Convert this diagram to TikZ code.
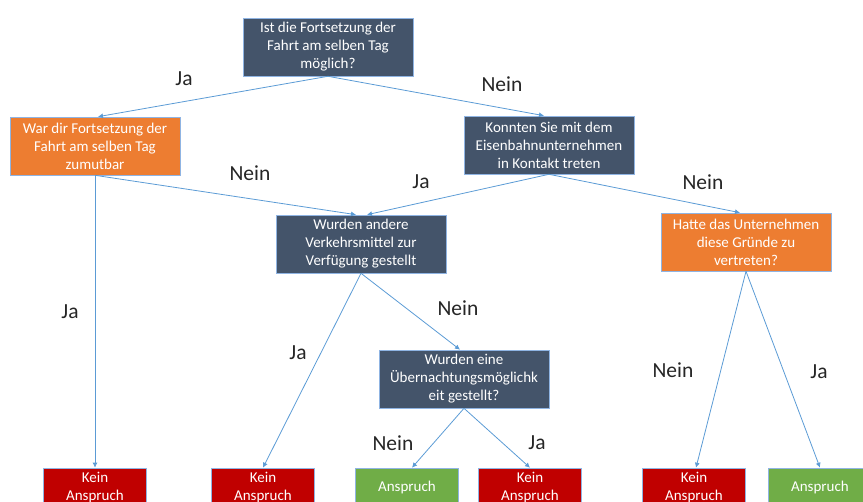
\documentclass[tikz,border=0pt]{standalone}
\usepackage{fontspec}
\setmainfont{Carlito}
\usetikzlibrary{arrows.meta}

\definecolor{qdark}{HTML}{44546A}
\definecolor{qorange}{HTML}{ED7D31}
\definecolor{qred}{HTML}{C00000}
\definecolor{qgreen}{HTML}{70AD47}
\definecolor{qline}{HTML}{5B9BD5}
\definecolor{qrand}{HTML}{8FB4E3}

\tikzset{every node/.style={inner sep=2pt}}
\tikzstyle{frage}=[draw=qrand, line width=0.6pt, text=white, align=center, minimum width=170pt, minimum height=58pt, font=\fontsize{15}{18}\selectfont]
\tikzstyle{dunkel}=[frage, fill=qdark]
\tikzstyle{hell}=[frage, fill=qorange]
\tikzstyle{kein}=[frage, fill=qred, minimum width=103pt, minimum height=40pt]
\tikzstyle{anspruch}=[frage, fill=qgreen, minimum width=103pt, minimum height=40pt]
\tikzstyle{antwort}=[text=black!85, font=\fontsize{21.5}{24}\selectfont]
\tikzstyle{pfeil}=[draw=qline, line width=0.8pt, -{Latex[length=5pt,width=5pt]}]

\begin{document}
\begin{tikzpicture}[x=1pt, y=-1pt]
    \useasboundingbox (0,0) rectangle (863,502);
    \clip (0,0) rectangle (863,502);
    \node [dunkel] (moeglich) at (328,47) {Ist die Fortsetzung der\\Fahrt am selben Tag\\möglich?};
    \node [hell] (zumutbar) at (95,146) {War dir Fortsetzung der\\Fahrt am selben Tag\\zumutbar};
    \node [dunkel] (kontakt) at (549,145) {Konnten Sie mit dem\\Eisenbahnunternehmen\\in Kontakt treten};
    \node [dunkel] (verkehr) at (361,244) {Wurden andere\\Verkehrsmittel zur\\Verfügung gestellt};
    \node [hell] (gruende) at (746,242) {Hatte das Unternehmen\\diese Gründe zu\\vertreten?};
    \node [dunkel] (nacht) at (464,379) {Wurden eine\\Übernachtungsmöglichk\\eit gestellt?};
    \node [kein] (keinA) at (95,488) {Kein\\Anspruch};
    \node [kein] (keinB) at (263,488) {Kein\\Anspruch};
    \node [anspruch] (anspruchA) at (407,488) {Anspruch};
    \node [kein] (keinC) at (530,488) {Kein\\Anspruch};
    \node [kein] (keinD) at (694,488) {Kein\\Anspruch};
    \node [anspruch] (anspruchB) at (820,488) {Anspruch};
    \draw [pfeil] (moeglich.south) -- ([xshift=3pt]zumutbar.north);
    \draw [pfeil] (moeglich.south) -- ([xshift=-5pt]kontakt.north);
    \draw [pfeil] (zumutbar.south) -- ([xshift=-5pt]verkehr.north);
    \draw [pfeil] (zumutbar.south) -- (keinA.north);
    \draw [pfeil] (kontakt.south) -- ([xshift=6pt]verkehr.north);
    \draw [pfeil] (kontakt.south) -- ([xshift=-6pt]gruende.north);
    \draw [pfeil] (verkehr.south) -- (keinB.north);
    \draw [pfeil] (verkehr.south) -- ([xshift=-4pt]nacht.north);
    \draw [pfeil] (nacht.south) -- ([xshift=5pt]anspruchA.north);
    \draw [pfeil] (nacht.south) -- (keinC.north);
    \draw [pfeil] (gruende.south) -- ([xshift=2pt]keinD.north);
    \draw [pfeil] (gruende.south) -- (anspruchB.north);
    \node [antwort] (jaA) at (184,79) {Ja};
    \node [antwort] (neinA) at (502,84) {Nein};
    \node [antwort] (neinB) at (250,173) {Nein};
    \node [antwort] (jaB) at (421,182) {Ja};
    \node [antwort] (neinC) at (703,182) {Nein};
    \node [antwort] (jaC) at (70,312) {Ja};
    \node [antwort] (neinD) at (458,308) {Nein};
    \node [antwort] (jaD) at (298,353) {Ja};
    \node [antwort] (neinE) at (673,370) {Nein};
    \node [antwort] (jaE) at (819,372) {Ja};
    \node [antwort] (neinF) at (393,443) {Nein};
    \node [antwort] (jaF) at (537,443) {Ja};
\end{tikzpicture}
\end{document}
